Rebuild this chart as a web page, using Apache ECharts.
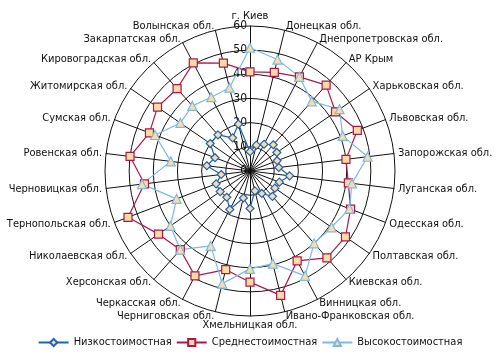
<!DOCTYPE html>
<html>
<head>
<meta charset="utf-8">
<script src="https://cdn.jsdelivr.net/npm/echarts@6/dist/echarts.min.js"></script>
<style>
html,body{margin:0;padding:0;background:#fff;}
#chart{width:500px;height:360px;}
</style>
</head>
<body>
<div id="chart"></div>
<script>
var regions = ['г. Киев','Донецкая обл.','Днепропетровская обл.','АР Крым','Харьковская обл.','Львовская обл.',
	'Запорожская обл.','Луганская обл.','Одесская обл.','Полтавская обл.','Киевская обл.','Винницкая обл.',
	'Ивано-Франковская обл.','Хмельницкая обл.','Черниговская обл.','Черкасская обл.','Херсонская обл.',
	'Николаевская обл.','Тернопольская обл.','Черновицкая обл.','Ровенская обл.','Сумская обл.',
	'Житомирская обл.','Кировоградская обл.','Закарпатская обл.','Волынская обл.'];
var seriesNames = ['Низкостоимостная','Среднестоимостная','Высокостоимостная'];
var lowCost = [8, 11, 12.5, 14.5, 13.5, 12, 12, 16.5, 13, 12.5, 14, 10.5, 8.5, 15.5, 11.5, 18, 14.5, 15, 15, 12, 18, 15.5, 20, 20, 15.5, 20];
var midCost = [41, 42, 44, 47.5, 43, 47.5, 40, 41, 44.5, 48, 48, 42, 53, 46, 42, 49, 43.5, 46, 54, 44, 50, 44.5, 46.5, 45.5, 50.5, 46];
var highCost = [51, 47.5, 44, 38.5, 45, 41, 49, 42.5, 44, 41, 40, 49, 39.5, 40.5, 48, 35, 43.5, 40, 32.5, 45, 33, 42, 35, 36, 34.5, 35.5];
var axisMax = 60;

var font = '"Liberation Sans Narrow","DejaVu Sans Condensed","Arial Narrow","Liberation Sans",Arial,sans-serif';
var fill = '#fbdca6';
var colLow = '#1f62b8', colMid = '#b0164a', colHigh = '#7cb9ea';

// radar in echarts runs counter-clockwise, the picture goes clockwise
function cw(arr) {
	var out = [arr[0]];
	for (var i = arr.length - 1; i > 0; i--) out.push(arr[i]);
	return out;
}

var myChart = echarts.init(document.getElementById('chart'));
var indicators = cw(regions).map(function (n) { return {name: n, min: 0, max: axisMax}; });

var option = {
	animation: false,
	textStyle: {fontFamily: font},
	legend: {
		bottom: 7,
		left: 'center',
		itemWidth: 30,
		itemHeight: 9,
		itemGap: 4,
		textStyle: {fontFamily: font, fontSize: 11, color: '#111'},
		data: seriesNames
	},
	polar: {center: [250, 171], radius: 145},
	angleAxis: {show: false, min: 0, max: 360},
	radiusAxis: {
		min: 0, max: axisMax, interval: 10,
		axisLine: {show: false},
		axisTick: {show: false},
		splitLine: {show: false},
		axisLabel: {fontFamily: font, fontSize: 12, color: '#111', margin: 3}
	},
	radar: {
		center: [250, 171],
		radius: 145,
		shape: 'circle',
		splitNumber: 6,
		startAngle: 90,
		nameGap: 4,
		axisName: {color: '#111', fontFamily: font, fontSize: 11},
		axisLine: {lineStyle: {color: '#111', width: 1}},
		splitLine: {lineStyle: {color: '#111', width: 1}},
		splitArea: {show: false},
		indicator: indicators
	},
	series: [
		// empty line series only to get line+marker legend icons
		{name: seriesNames[0], type: 'line', coordinateSystem: 'polar', data: [], symbol: 'diamond', symbolSize: 8,
			lineStyle: {color: colLow, width: 1.2}, itemStyle: {color: fill, borderColor: colLow, borderWidth: 1.2}},
		{name: seriesNames[1], type: 'line', coordinateSystem: 'polar', data: [], symbol: 'rect', symbolSize: 8,
			lineStyle: {color: colMid, width: 1.2}, itemStyle: {color: fill, borderColor: colMid, borderWidth: 1.2}},
		{name: seriesNames[2], type: 'line', coordinateSystem: 'polar', data: [], symbol: 'triangle', symbolSize: 9,
			lineStyle: {color: colHigh, width: 1.2}, itemStyle: {color: fill, borderColor: colHigh, borderWidth: 1.2}},
		{
			type: 'radar',
			data: [
				{
					name: seriesNames[0], value: cw(lowCost),
					symbol: 'diamond', symbolSize: 8,
					lineStyle: {color: colLow, width: 1.2},
					itemStyle: {color: fill, borderColor: colLow, borderWidth: 1.2}
				},
				{
					name: seriesNames[1], value: cw(midCost),
					symbol: 'rect', symbolSize: 8,
					lineStyle: {color: colMid, width: 1.2},
					itemStyle: {color: fill, borderColor: colMid, borderWidth: 1.2}
				},
				{
					name: seriesNames[2], value: cw(highCost),
					symbol: 'triangle', symbolSize: 9,
					lineStyle: {color: colHigh, width: 1.2},
					itemStyle: {color: fill, borderColor: colHigh, borderWidth: 1.2}
				}
			]
		}
	]
};
myChart.setOption(option);
</script>
</body>
</html>
